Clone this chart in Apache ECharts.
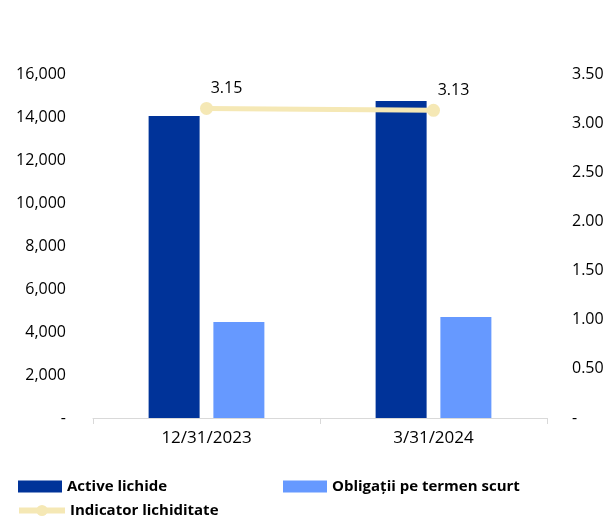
<!DOCTYPE html>
<html>
<head>
<meta charset="utf-8">
<script src="https://cdn.jsdelivr.net/npm/echarts@6/dist/echarts.min.js"></script>
<style>
  html, body { margin: 0; padding: 0; background: #fff; }
  #chart { width: 611px; height: 520px; }
</style>
</head>
<body>
<div id="chart"></div>
<script>
  var categories = ['12/31/2023', '3/31/2024'];
  var activeLichide = [14050, 14740];
  var obligatii = [4470, 4700];
  var indicator = [3.15, 3.13];

  var font = 'Open Sans';
  var legendText = { fontFamily: font, fontWeight: 'bold', fontSize: 15, color: '#000' };

  var chart = echarts.init(document.getElementById('chart'));
  var option = {
    animation: false,
    textStyle: { fontFamily: font },
    grid: { left: 93, right: 64, top: 74, bottom: 102, containLabel: false },
    legend: [
      { left: 18, top: 479, padding: 0, itemWidth: 44, itemHeight: 12, icon: 'rect',
        data: ['Active lichide'], textStyle: legendText },
      { left: 283, top: 479, padding: 0, itemWidth: 44, itemHeight: 12, icon: 'rect',
        data: ['Obligații pe termen scurt'], textStyle: legendText },
      { left: 16, top: 503, padding: 0, itemWidth: 46, itemHeight: 14,
        lineStyle: { width: 6 },
        data: ['Indicator lichiditate'], textStyle: legendText }
    ],
    xAxis: {
      type: 'category',
      data: categories,
      axisLine: { lineStyle: { color: '#d9d9d9', width: 1 } },
      axisTick: { show: true, length: 6, lineStyle: { color: '#d9d9d9' } },
      axisLabel: { color: '#000', fontSize: 17, margin: 12, fontFamily: font }
    },
    yAxis: [
      {
        type: 'value', min: 0, max: 16000, interval: 2000,
        splitLine: { show: false },
        axisLine: { show: false }, axisTick: { show: false },
        axisLabel: {
          color: '#000', fontSize: 16, margin: 27, fontFamily: font,
          formatter: function (v) { return v === 0 ? '-' : v.toLocaleString('en-US'); }
        }
      },
      {
        type: 'value', min: 0, max: 3.5, interval: 0.5,
        splitLine: { show: false },
        axisLine: { show: false }, axisTick: { show: false },
        axisLabel: {
          color: '#000', fontSize: 16, margin: 25, fontFamily: font,
          formatter: function (v) { return v === 0 ? '-' : v.toFixed(2); }
        }
      }
    ],
    series: [
      {
        name: 'Active lichide', type: 'bar', data: activeLichide,
        barWidth: 51, barGap: '27%',
        itemStyle: { color: '#003399' }
      },
      {
        name: 'Obligații pe termen scurt', type: 'bar', data: obligatii,
        barWidth: 51,
        itemStyle: { color: '#6699FF' }
      },
      {
        name: 'Indicator lichiditate', type: 'line', yAxisIndex: 1, data: indicator,
        symbol: 'circle', symbolSize: 13,
        lineStyle: { color: '#F5E8B5', width: 5 },
        itemStyle: { color: '#F5E8B5' },
        label: {
          show: true, position: 'top', offset: [20, 0], color: '#000', fontSize: 16,
          fontFamily: font,
          formatter: function (p) { return p.value.toFixed(2); }
        }
      }
    ]
  };
  chart.setOption(option);
</script>
</body>
</html>
